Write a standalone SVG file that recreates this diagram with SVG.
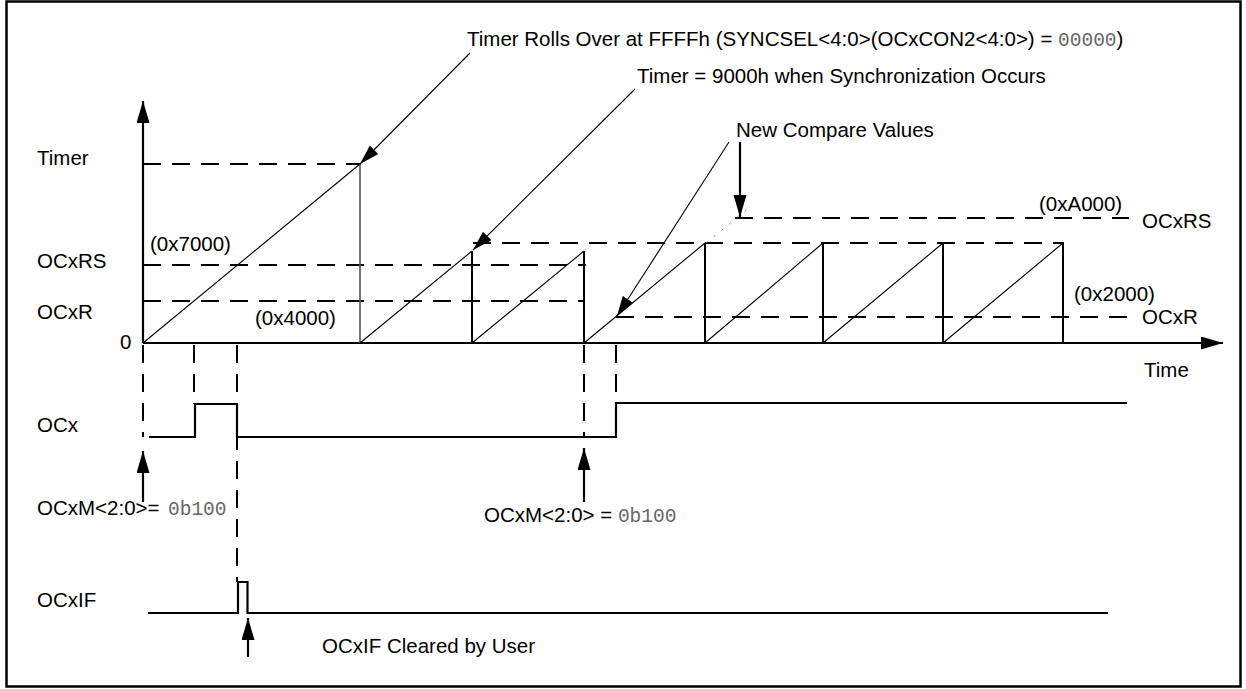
<svg xmlns="http://www.w3.org/2000/svg" width="1246" height="689" viewBox="0 0 1246 689">
<style>
text{font-family:"Liberation Sans",Arial,sans-serif;font-size:20.5px;fill:#000}
.mono{font-family:"Liberation Mono","Courier New",monospace;font-size:19.5px;fill:#666}
.ax{stroke:#000;stroke-width:2.2;fill:none}
.thin{stroke:#000;stroke-width:1.1;fill:none}
.vt{stroke:#000;stroke-width:2;fill:none}
.dash{stroke:#000;stroke-width:2;fill:none;stroke-dasharray:18 11}
.sig{stroke:#000;stroke-width:2.2;fill:none}
</style>
<defs>
<marker id="ah" markerUnits="userSpaceOnUse" markerWidth="24" markerHeight="14" refX="22" refY="6.5" orient="auto">
<path d="M0,0 L22,6.5 L0,13 z" fill="#000"/>
</marker>
<marker id="ahs" markerUnits="userSpaceOnUse" markerWidth="22" markerHeight="13" refX="20" refY="6" orient="auto">
<path d="M0,0 L20,6 L0,12 z" fill="#000"/>
</marker>
</defs>
<rect x="6.5" y="1.5" width="1234" height="685" fill="#fff" stroke="#000" stroke-width="2.5"/>

<g id="labels">
<text x="37" y="165">Timer</text>
<text x="37" y="268">OCxRS</text>
<text x="37" y="319">OCxR</text>
<text x="120" y="349">0</text>
<text x="37" y="432">OCx</text>
<text x="37" y="515">OCxM&lt;2:0&gt;= <tspan class="mono" x="168">0b100</tspan></text>
<text x="37" y="607">OCxIF</text>
<text x="150" y="251">(0x7000)</text>
<text x="255" y="325">(0x4000)</text>
<text x="1039" y="211">(0xA000)</text>
<text x="1142" y="228">OCxRS</text>
<text x="1074" y="301">(0x2000)</text>
<text x="1142" y="324">OCxR</text>
<text x="1144" y="377">Time</text>
</g>

<g id="annotations">
<text x="467" y="46">Timer Rolls Over at FFFFh (SYNCSEL&lt;4:0&gt;(OCxCON2&lt;4:0&gt;) = <tspan class="mono">00000</tspan>)</text>
<text x="637" y="83">Timer = 9000h when Synchronization Occurs</text>
<text x="736" y="137">New Compare Values</text>
<text x="484" y="522">OCxM&lt;2:0&gt; = <tspan class="mono">0b100</tspan></text>
<text x="322" y="653">OCxIF Cleared by User</text>
</g>

<g id="axes">
<line class="ax" x1="143" y1="343" x2="143" y2="101" marker-end="url(#ah)"/>
<line class="ax" x1="143" y1="343" x2="1223" y2="343" marker-end="url(#ah)"/>
</g>

<g id="reference-lines">
<line class="dash" x1="143" y1="164" x2="360" y2="164"/>
<line class="dash" x1="143" y1="265" x2="586" y2="265"/>
<line class="dash" x1="143" y1="301" x2="584" y2="301"/>
<line class="dash" x1="473" y1="243" x2="1064" y2="243"/>
<line class="dash" x1="735" y1="218" x2="1129" y2="218"/>
<line class="dash" x1="616" y1="317" x2="1129" y2="317"/>
<line x1="706" y1="243" x2="750" y2="207" stroke="#777" stroke-width="1" stroke-dasharray="2 8"/>
<line class="dash" x1="143" y1="345" x2="143" y2="437"/>
<line class="dash" x1="194" y1="345" x2="194" y2="404"/>
<line class="dash" x1="237" y1="345" x2="237" y2="582"/>
<line class="dash" x1="584" y1="345" x2="584" y2="437"/>
<line class="dash" x1="616" y1="345" x2="616" y2="403"/>
</g>

<g id="timer-ramp">
<line class="thin" x1="143" y1="343" x2="360" y2="164"/>
<line x1="360" y1="164" x2="360" y2="343" stroke="#555" stroke-width="1.6"/>
<path class="thin" d="M360,343 L472,251 M472,343 L584,251 M584,343 L705,243 M705,343 L823,243 M823,343 L943,243 M943,343 L1063,243"/>
<path class="vt" d="M472,251 V343 M584,251 V343 M705,243 V343 M823,243 V343 M943,243 V343 M1063,243 V343"/>
</g>

<g id="OCx-signal">
<path class="sig" d="M149,437 H195 V404 H237 V437 H616 V403 H1127"/>
</g>

<g id="OCxIF-signal">
<path class="sig" d="M148,613 H238 V582 H247.5 V613 H1108"/>
</g>

<g id="connectors">
<line class="thin" x1="470" y1="53" x2="360" y2="164" marker-end="url(#ahs)"/>
<line class="thin" x1="635" y1="89" x2="473" y2="250" marker-end="url(#ahs)"/>
<line class="thin" x1="729" y1="142" x2="617" y2="316" marker-end="url(#ahs)"/>
<line class="ax" x1="740" y1="142" x2="740" y2="217" marker-end="url(#ah)"/>
<line class="ax" x1="143" y1="502" x2="143" y2="451" marker-end="url(#ah)"/>
<line class="ax" x1="584" y1="502" x2="584" y2="448" marker-end="url(#ah)"/>
<line class="ax" x1="248" y1="657" x2="248" y2="618" marker-end="url(#ah)"/>
</g>
</svg>
